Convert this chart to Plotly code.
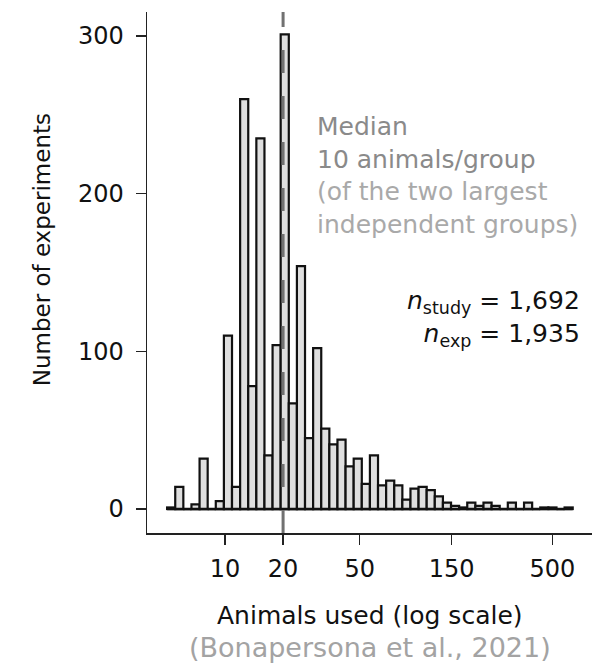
import numpy as np
import plotly.graph_objects as go

# ---------------- data ----------------
counts = [1, 14, 0, 3, 32, 0, 5, 110, 14, 260,
          78, 235, 34, 104, 301, 67, 154, 45, 102, 51,
          41, 44, 27, 32, 16, 34, 15, 18, 15, 6,
          13, 14, 12, 8, 4, 2, 1, 4, 2, 4,
          2, 0, 4, 0, 4, 0, 1, 1, 0, 1]
bin_min_animals = 5
bin_max_animals = 638
median_animals = 20
x_tick_values = [10, 20, 50, 150, 500]
x_tick_labels = ["10", "20", "50", "150", "500"]
y_tick_values = [0, 100, 200, 300]
y_tick_labels = ["0", "100", "200", "300"]
n_study = "1,692"
n_exp = "1,935"

# log-spaced bins (histogram on log scale)
edges = np.linspace(np.log10(bin_min_animals), np.log10(bin_max_animals), len(counts) + 1)
centers = (edges[:-1] + edges[1:]) / 2
bw = edges[1] - edges[0]

FONT = "DejaVu Sans"

fig = go.Figure()
fig.add_trace(go.Bar(
    x=centers, y=counts, width=bw,
    marker=dict(color="#dfdfdf", line=dict(color="#111111", width=2.2)),
    hoverinfo="skip", showlegend=False,
))

# baseline of histogram
fig.add_shape(type="line", xref="x", yref="y", x0=edges[0], x1=edges[-1], y0=0, y1=0,
              line=dict(color="#111111", width=2.4), layer="above")

# median dashed line (drawn from bottom up)
fig.add_shape(type="line", xref="x", yref="paper",
              x0=np.log10(median_animals), x1=np.log10(median_animals), y0=0, y1=1,
              line=dict(color="#717171", width=3, dash="23px,23px"), layer="above")

axis_common = dict(showgrid=False, zeroline=False, showline=True, linecolor="#222222",
                   linewidth=1.5, ticks="outside", ticklen=10, tickwidth=1.5,
                   tickcolor="#222222", automargin=False,
                   tickfont=dict(family=FONT, size=24, color="#111111"))

fig.update_xaxes(range=[0.5945, 2.905], tickmode="array",
                 tickvals=list(np.log10(x_tick_values)), ticktext=x_tick_labels,
                 ticklabelstandoff=4, **axis_common)
fig.update_yaxes(range=[-15.2, 315.2], tickmode="array",
                 tickvals=y_tick_values, ticktext=y_tick_labels,
                 ticklabelstandoff=7, **axis_common)

grey_a = "#8a8a8a"
grey_b = "#a9a9a9"
annotations = [
    dict(text="Number of experiments", xref="paper", yref="paper", x=0, y=0.5426,
         xanchor="center", yanchor="middle", xshift=-105, textangle=-90, showarrow=False,
         font=dict(family=FONT, size=23, color="#111111")),
    dict(text="Animals used (log scale)", xref="paper", yref="paper", x=0.5, y=0,
         xanchor="center", yanchor="middle", yshift=-82, showarrow=False,
         font=dict(family=FONT, size=25, color="#111111")),
    dict(text="(Bonapersona et al., 2021)", xref="paper", yref="paper", x=0.5, y=0,
         xanchor="center", yanchor="middle", yshift=-114, showarrow=False,
         font=dict(family=FONT, size=27, color="#a3a3a3")),
    dict(text="Median<br>10 animals/group<br>"
              f"<span style='color:{grey_b}'>(of the two largest</span><br>"
              f"<span style='color:{grey_b}'>independent groups)</span>",
         xref="paper", yref="paper", x=(315 - 147) / 445, y=(532.7 - 175) / 521,
         xanchor="left", yanchor="middle", align="left", showarrow=False,
         font=dict(family=FONT, size=25, color=grey_a)),
    dict(text=f"<i>n</i><sub>study</sub> = {n_study}<br><i>n</i><sub>exp</sub> = {n_exp}",
         xref="paper", yref="paper", x=(582 - 147) / 445, y=(532.7 - 318) / 521,
         xanchor="right", yanchor="middle", align="right", showarrow=False,
         font=dict(family=FONT, size=25, color="#111111")),
]

fig.update_layout(
    width=605, height=663,
    margin=dict(l=147, r=13, t=12, b=130, autoexpand=False),
    paper_bgcolor="white", plot_bgcolor="white",
    bargap=0, annotations=annotations,
    font=dict(family=FONT),
)

fig.write_html("out.html", config={"displayModeBar": False, "staticPlot": True},
               post_script="document.body.style.margin='0';document.body.style.overflow='hidden';")
